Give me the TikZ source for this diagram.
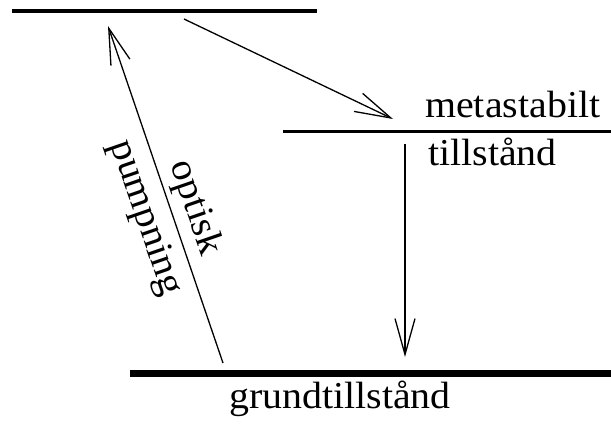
\documentclass[tikz,border=0pt]{standalone}
\usepackage{fontspec}
\setmainfont{Liberation Serif}
\usetikzlibrary{arrows.meta}
\begin{document}
\begin{tikzpicture}[x=1pt,y=-1pt,
  level/.style={line width=#1},
  trans/.style={line width=1.3pt,-{Straight Barb[length=36pt,width=20pt,line width=1.3pt]}},
  lbl/.style={inner sep=0pt,font=\fontsize{38}{45}\selectfont}]
\useasboundingbox (0,0) rectangle (611,425);
% levels
\coordinate (topL) at (12,11);
\coordinate (topR) at (317,11);
\coordinate (metL) at (283,132);
\coordinate (metR) at (611,132);
\coordinate (gndL) at (130,373.5);
\coordinate (gndR) at (611,373.5);
\draw[level=3.5pt] (topL) -- (topR);
\draw[level=3pt] (metL) -- (metR);
\draw[level=7pt] (gndL) -- (gndR);
% transitions
\coordinate (pumpS) at (223,363);
\coordinate (pumpE) at (108,26);
\coordinate (decS) at (184,19);
\coordinate (decE) at (393,119);
\coordinate (emS) at (405,144);
\coordinate (emE) at (405,357);
\draw[trans] (pumpS) -- (pumpE);
\draw[trans] (decS) -- (decE);
\draw[trans] (emS) -- (emE);
% labels
\node[lbl,anchor=base west,xscale=1.05] (meta) at (425,118) {metastabilt};
\node[lbl,anchor=base west,xscale=1.05] (till) at (428,166) {tillstånd};
\node[lbl,anchor=base west,xscale=1.05] (grund) at (229,408) {grundtillstånd};
\node[lbl,rotate=-71,xscale=1.05] (optisk) at (195,208) {optisk};
\node[lbl,rotate=-71,xscale=1.05] (pump) at (145,218) {pumpning};
\end{tikzpicture}
\end{document}
